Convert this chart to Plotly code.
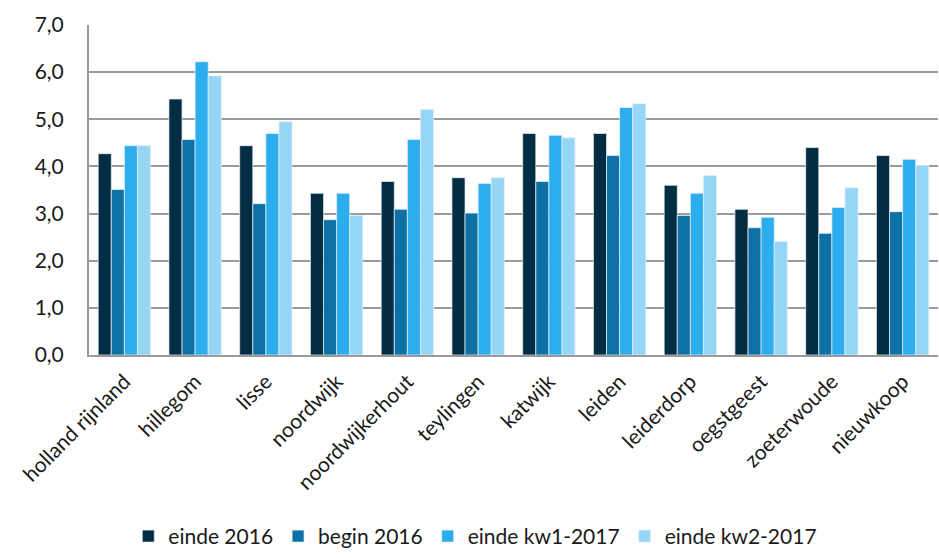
import plotly.graph_objects as go

categories = ["holland rijnland", "hillegom", "lisse", "noordwijk", "noordwijkerhout",
              "teylingen", "katwijk", "leiden", "leiderdorp", "oegstgeest",
              "zoeterwoude", "nieuwkoop"]
einde_2016 = [4.27, 5.43, 4.44, 3.43, 3.68, 3.76, 4.70, 4.70, 3.60, 3.09, 4.40, 4.23]
begin_2016 = [3.51, 4.57, 3.21, 2.87, 3.09, 3.01, 3.68, 4.23, 2.96, 2.70, 2.58, 3.04]
einde_kw1_2017 = [4.44, 6.22, 4.70, 3.43, 4.57, 3.64, 4.66, 5.25, 3.43, 2.92, 3.13, 4.15]
einde_kw2_2017 = [4.44, 5.92, 4.95, 2.96, 5.21, 3.76, 4.61, 5.33, 3.81, 2.41, 3.55, 4.02]
y_ticks = [0, 1, 2, 3, 4, 5, 6, 7]

series = [
    ("einde 2016", einde_2016, "#032D42"),
    ("begin 2016", begin_2016, "#0E71A6"),
    ("einde kw1-2017", einde_kw1_2017, "#2CADEE"),
    ("einde kw2-2017", einde_kw2_2017, "#95D6F7"),
]

fig = go.Figure()
for name, vals, col in series:
    fig.add_bar(x=categories, y=vals, name=name, marker_color=col,
                marker_line_color="rgba(230,240,245,0.9)", marker_line_width=0.8)

font = "Lato, Open Sans, sans-serif"
fig.update_layout(
    width=939, height=558,
    margin=dict(l=89, r=1, t=25, b=203, autoexpand=False),
    paper_bgcolor="white", plot_bgcolor="white",
    barmode="group", bargap=0.26, bargroupgap=0,
    separators=",.",
    font=dict(family=font, size=21, color="#1a1a1a"),
    legend=dict(orientation="h", x=0.455, xanchor="center", y=-0.612, yanchor="bottom",
                font=dict(size=21), traceorder="normal", itemwidth=30),
    showlegend=True,
)
fig.update_yaxes(range=[0, 7], tickvals=y_ticks, tickformat=".1f",
                 showgrid=True, gridcolor="#9a9a9a", gridwidth=2,
                 showline=True, linecolor="#9a9a9a", linewidth=2,
                 ticks="", zeroline=False, automargin=False,
                 ticklabelstandoff=19, tickfont=dict(size=21))
fig.update_xaxes(tickangle=-45, showline=True, linecolor="#9a9a9a", linewidth=2,
                 ticks="", automargin=False, ticklabelstandoff=4,
                 tickfont=dict(size=21))

fig.write_html("out.html", config={"displayModeBar": False},
               post_script="document.body.style.margin='0';")
